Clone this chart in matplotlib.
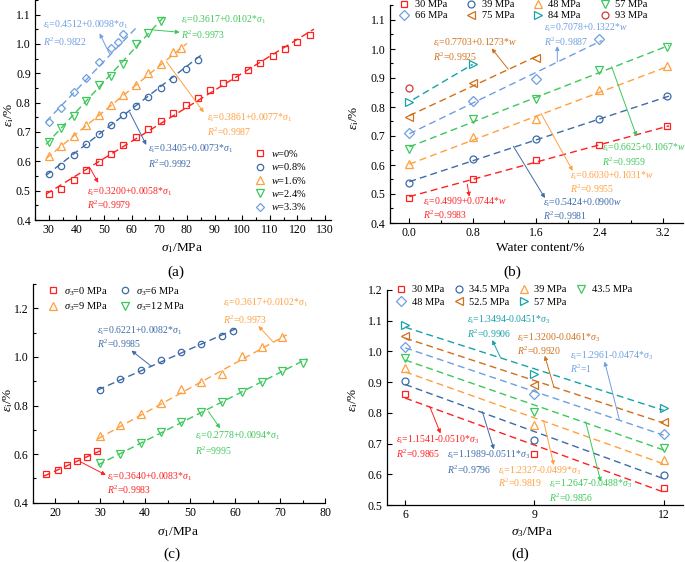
import matplotlib
matplotlib.use('Agg')
import matplotlib.pyplot as plt
from matplotlib.lines import Line2D
from matplotlib.ticker import MultipleLocator, FormatStrFormatter
import numpy as np

plt.rcParams['font.family'] = ['Liberation Serif', 'DejaVu Serif']
plt.rcParams['mathtext.fontset'] = 'custom'
plt.rcParams['mathtext.rm'] = 'Liberation Serif'
plt.rcParams['mathtext.it'] = 'Liberation Serif:italic'
plt.rcParams['mathtext.bf'] = 'Liberation Serif:bold'

# ---------------- data ----------------
# (a) eps_i vs sigma_1 for different water contents
a_labels = ['$w$=0%', '$w$=0.8%', '$w$=1.6%', '$w$=2.4%', '$w$=3.3%']
a_sig_w0 = [30, 34.5, 39, 43.5, 48, 52.5, 57, 61.5, 66, 70.5, 75, 79.5, 84, 88.5, 93, 97.5, 102, 106.5, 111, 115.5, 120, 124.5]
a_eps_w0 = [0.488, 0.506, 0.536, 0.569, 0.599, 0.624, 0.655, 0.684, 0.711, 0.737, 0.764, 0.792, 0.817, 0.842, 0.866, 0.888, 0.911, 0.936, 0.959, 0.984, 1.008, 1.032]
a_sig_w08 = [30, 34.5, 39, 43.5, 48, 52.5, 57, 61.5, 66, 70.5, 75, 79.5, 84]
a_eps_w08 = [0.556, 0.585, 0.623, 0.659, 0.694, 0.725, 0.757, 0.788, 0.819, 0.851, 0.882, 0.915, 0.945]
a_sig_w16 = [30, 34.5, 39, 43.5, 48, 52.5, 57, 61.5, 66, 70.5, 75, 78]
a_eps_w16 = [0.617, 0.652, 0.688, 0.723, 0.757, 0.792, 0.827, 0.861, 0.900, 0.933, 0.972, 0.986]
a_sig_w24 = [30, 34.5, 39, 43.5, 48, 52.5, 57, 61.5, 66, 70.5]
a_eps_w24 = [0.667, 0.712, 0.756, 0.806, 0.859, 0.890, 0.931, 1.001, 1.036, 1.078]
a_sig_w33 = [30, 34.5, 39, 43.5, 48, 52.5, 55, 57]
a_eps_w33 = [0.733, 0.783, 0.836, 0.885, 0.939, 0.988, 1.006, 1.033]
a_intercepts = [0.3200, 0.3405, 0.3861, 0.3617, 0.4512]
a_slopes = [0.0058, 0.0073, 0.0077, 0.0102, 0.0098]
a_r2 = ['0.9979', '0.9992', '0.9987', '0.9973', '0.9822']

# (b) eps_i vs water content for different sigma_1
b_labels = ['30 MPa', '39 MPa', '48 MPa', '57 MPa', '66 MPa', '75 MPa', '84 MPa', '93 MPa']
b_w = [0.0, 0.8, 1.6, 2.4, 3.25]
b_30 = [0.487, 0.553, 0.616, 0.668, 0.735]
b_39 = [0.538, 0.622, 0.688, 0.760, 0.837]
b_48 = [0.603, 0.695, 0.759, 0.860, 0.941]
b_57 = [0.655, 0.757, 0.826, 0.927, 1.006]
b_66 = [0.711, 0.820, 0.897, 1.036]
b_75 = [0.766, 0.883, 0.968]
b_84 = [0.818, 0.947]
b_93 = [0.866]
b_intercepts = [0.4909, 0.5424, 0.6030, 0.6625, 0.7078, 0.7703]
b_slopes = [0.0744, 0.0900, 0.1031, 0.1067, 0.1322, 0.1273]
b_r2 = ['0.9983', '0.9981', '0.9955', '0.9959', '0.9887', '0.9925']

# (c) eps_i vs sigma_1 for different sigma_3
c_labels = ['$\\sigma_3$=0 MPa', '$\\sigma_3$=6 MPa', '$\\sigma_3$=9 MPa', '$\\sigma_3$=12 MPa']
c_sig_0 = [17.9, 20.6, 22.6, 24.8, 27.0, 29.3]
c_eps_0 = [0.517, 0.534, 0.554, 0.571, 0.590, 0.611]
c_sig_6 = [30, 34.5, 39, 43.5, 48, 52.5, 57, 59.5]
c_eps_6 = [0.864, 0.908, 0.947, 0.986, 1.019, 1.052, 1.086, 1.107]
c_sig_9 = [30, 34.5, 39, 43.5, 48, 52.5, 57, 61.5, 66, 70.5]
c_eps_9 = [0.676, 0.718, 0.764, 0.809, 0.867, 0.895, 0.930, 1.004, 1.042, 1.083]
c_sig_12 = [30, 34.5, 39, 43.5, 48, 52.5, 57, 61.5, 66, 70.5, 75]
c_eps_12 = [0.562, 0.602, 0.644, 0.691, 0.733, 0.774, 0.814, 0.856, 0.898, 0.943, 0.976]
c_intercepts = [0.3640, 0.6221, 0.3617, 0.2778]
c_slopes = [0.0083, 0.0082, 0.0102, 0.0094]
c_r2 = ['0.9983', '0.9985', '0.9973', '9995']

# (d) eps_i vs sigma_3 for different sigma_1
d_labels = ['30 MPa', '34.5 MPa', '39 MPa', '43.5 MPa', '48 MPa', '52.5 MPa', '57 MPa']
d_s3 = [6, 9, 12]
d_30 = [0.862, 0.667, 0.554]
d_345 = [0.905, 0.712, 0.597]
d_39 = [0.945, 0.761, 0.645]
d_435 = [0.980, 0.803, 0.687]
d_48 = [1.016, 0.862, 0.731]
d_525 = [1.050, 0.891, 0.771]
d_57 = [1.086, 0.927, 0.815]
d_intercepts = [1.1541, 1.1989, 1.2327, 1.2647, 1.2961, 1.3200, 1.3494]
d_slopes = [-0.0510, -0.0511, -0.0499, -0.0488, -0.0474, -0.0461, -0.0451]
d_r2 = ['0.9865', '0.9796', '0.9819', '0.9856', '1', '0.9920', '0.9906']

# ---------------- style ----------------
RED = '#FF2020'
DBLUE = '#3D6BA8'
ORANGE = '#FFA040'
GREEN = '#3CC85A'
LBLUE = '#6E9FE0'
BROWN = '#D0701A'
TEAL = '#17A2A8'
CRIMSON = '#D23A3A'
DASH = (0, (5, 3))
NOTE_FS = 7.0

W, H = 685, 562
fig = plt.figure(figsize=(W / 100, H / 100), dpi=100)


def add_ax(l, t, r, b):
    return fig.add_axes([l / W, 1 - b / H, (r - l) / W, (b - t) / H])


def fx(px, py):
    return px / W, 1 - py / H


def style(ax, xlim, ylim, xmaj, ymaj, xmin=None, ymin=None, xfmt=None):
    ax.set_xlim(*xlim)
    ax.set_ylim(*ylim)
    ax.xaxis.set_major_locator(MultipleLocator(xmaj))
    ax.yaxis.set_major_locator(MultipleLocator(ymaj))
    if xmin:
        ax.xaxis.set_minor_locator(MultipleLocator(xmin))
    if ymin:
        ax.yaxis.set_minor_locator(MultipleLocator(ymin))
    ax.yaxis.set_major_formatter(FormatStrFormatter('%.1f'))
    if xfmt:
        ax.xaxis.set_major_formatter(FormatStrFormatter(xfmt))
    for s in ['top', 'right']:
        ax.spines[s].set_visible(False)
    for s in ['left', 'bottom']:
        ax.spines[s].set_linewidth(0.9)
    ax.tick_params(direction='in', which='both', labelsize=8.5, width=0.8, pad=3)
    ax.tick_params(which='major', length=3.5)
    ax.tick_params(which='minor', length=2)


def series(ax, x, y, color, marker, ms, fit=None, xr=None):
    if fit is not None:
        xx = np.array(xr)
        ax.plot(xx, fit[0] + fit[1] * xx, ls=DASH, color=color, lw=1.0, zorder=2)
    ax.plot(x, y, ls='none', marker=marker, ms=ms, mfc='none', mec=color, mew=0.9, zorder=3)


def note(ax, eq, r2, color, teq, tr2, tail, head):
    ax.text(teq[0], teq[1], eq, color=color, fontsize=NOTE_FS, ha='left', va='center')
    ax.text(tr2[0], tr2[1], '$R^2$=' + r2, color=color, fontsize=NOTE_FS, ha='left', va='center')
    ax.annotate('', xy=head, xytext=tail,
                arrowprops=dict(arrowstyle='-|>', color=color, lw=0.7, shrinkA=0, shrinkB=0,
                                mutation_scale=6))


def handle(color, marker, ms):
    return Line2D([], [], ls='none', marker=marker, ms=ms, mfc='none', mec=color, mew=0.9)


EPS = '$\\varepsilon_{\\rm i}$'

# ================= (a) =================
axa = add_ax(35, 0, 330.5, 220)
style(axa, (25, 132), (0.4, 1.15), 10, 0.1, 5, 0.05)
a_x = [a_sig_w0, a_sig_w08, a_sig_w16, a_sig_w24, a_sig_w33]
a_y = [a_eps_w0, a_eps_w08, a_eps_w16, a_eps_w24, a_eps_w33]
a_col = [RED, DBLUE, ORANGE, GREEN, LBLUE]
a_mk = ['s', 'o', '^', 'v', 'D']
a_ms = [4.6, 4.6, 5.2, 5.2, 4.2]
a_ext = [(29, 126), (29, 85.5), (29, 80), (29, 72), (29, 61.5)]
for i in range(5):
    series(axa, a_x[i], a_y[i], a_col[i], a_mk[i], a_ms[i],
           (a_intercepts[i], a_slopes[i]), a_ext[i])
a_notes = [  # eq pos, r2 pos, tail, head
    ((43.8, 0.497), (43.8, 0.451), (45.0, 0.576), (47.9, 0.527)),
    ((65.9, 0.644), (65.9, 0.591), (59.3, 0.767), (65.3, 0.656)),
    ((87.3, 0.747), (87.3, 0.701), (72.6, 0.940), (86.1, 0.767)),
    ((78.0, 1.082), (78.0, 1.031), (67.7, 1.048), (77.4, 1.040)),
    ((27.8, 1.065), (27.8, 1.008), (52.0, 0.966), (48.4, 1.036)),
]
for i, (teq, tr2, tail, head) in enumerate(a_notes):
    eq = EPS + '=%.4f+%.4f*$\\sigma_1$' % (a_intercepts[i], a_slopes[i])
    note(axa, eq, a_r2[i], a_col[i], teq, tr2, tail, head)
axa.legend([handle(a_col[i], a_mk[i], a_ms[i]) for i in range(5)], a_labels,
           loc='upper left', bbox_to_anchor=fx(255, 148), bbox_transform=fig.transFigure,
           frameon=False, fontsize=7.5, handlelength=1.0, handletextpad=0.5,
           labelspacing=0.22, borderpad=0, borderaxespad=0)

# ================= (b) =================
axb = add_ax(389.5, 5.5, 682.5, 223)
style(axb, (-0.25, 3.45), (0.4, 1.15), 0.8, 0.1, 0.4, 0.05, xfmt='%.1f')
b_y = [b_30, b_39, b_48, b_57, b_66, b_75, b_84, b_93]
b_col = [RED, DBLUE, ORANGE, GREEN, LBLUE, BROWN, TEAL, CRIMSON]
b_mk = ['s', 'o', '^', 'v', 'D', '<', '>', 'o']
b_ms = [5, 5, 5.6, 5.6, 4.6, 5.6, 5.6, 5]
for i in range(8):
    xs = b_w[:len(b_y[i])]
    if i < 6:
        fit = (b_intercepts[i], b_slopes[i])
        xr = (0.0, xs[-1] + 0.03)
    elif i == 6:
        p = np.polyfit(xs, b_y[i], 1)
        fit = (p[1], p[0])
        xr = (0.05, xs[-1])
    else:
        fit, xr = None, None
    series(axb, xs, b_y[i], b_col[i], b_mk[i], b_ms[i], fit, xr)
b_notes = [
    ((0.177, 0.473), (0.177, 0.428), (0.732, 0.534), (0.758, 0.491)),
    ((1.684, 0.469), (1.684, 0.425), (1.313, 0.665), (1.713, 0.486)),
    ((2.029, 0.562), (2.029, 0.517), (1.663, 0.778), (2.063, 0.580)),
    ((2.430, 0.661), (2.430, 0.612), (2.555, 0.939), (2.871, 0.699)),
    ((1.701, 1.075), (1.701, 1.025), (1.869, 0.956), (1.869, 1.010)),
    ((0.304, 1.020), (0.304, 0.974), (1.250, 0.930), (1.040, 1.002)),
]
for i, (teq, tr2, tail, head) in enumerate(b_notes):
    if i == 1:
        eq = EPS + '=%.4f+%.4f$w$' % (b_intercepts[i], b_slopes[i])
    else:
        eq = EPS + '=%.4f+%.4f*$w$' % (b_intercepts[i], b_slopes[i])
    note(axb, eq, b_r2[i], b_col[i], teq, tr2, tail, head)
order_b = [0, 4, 1, 5, 2, 6, 3, 7]
axb.legend([handle(b_col[i], b_mk[i], b_ms[i]) for i in order_b], [b_labels[i] for i in order_b],
           ncol=4, loc='upper left', bbox_to_anchor=fx(399, 0), bbox_transform=fig.transFigure,
           frameon=False, fontsize=7.5, handlelength=1.0, handletextpad=0.5,
           labelspacing=0.15, columnspacing=1.8, borderpad=0, borderaxespad=0)

# ================= (c) =================
axc = add_ax(32.5, 284, 325, 502.7)
style(axc, (15, 80), (0.4, 1.3), 10, 0.2, 5, 0.1)
c_x = [c_sig_0, c_sig_6, c_sig_9, c_sig_12]
c_y = [c_eps_0, c_eps_6, c_eps_9, c_eps_12]
c_col = [RED, DBLUE, ORANGE, GREEN]
c_mk = ['s', 'o', '^', 'v']
c_ms = [4.6, 4.6, 5.2, 5.2]
c_ext = [(17.5, 30), (29.5, 60.5), (29.5, 71.5), (29.5, 76)]
for i in range(4):
    series(axc, c_x[i], c_y[i], c_col[i], c_mk[i], c_ms[i],
           (c_intercepts[i], c_slopes[i]), c_ext[i])
c_notes = [
    ((31.6, 0.507), (31.6, 0.452), (25.6, 0.569), (31.3, 0.514)),
    ((29.4, 1.108), (29.4, 1.053), (41.5, 0.960), (37.0, 1.026)),
    ((57.3, 1.221), (57.3, 1.152), (68.4, 1.063), (65.2, 1.127)),
    ((51.1, 0.674), (51.1, 0.613), (54.1, 0.775), (56.7, 0.706)),
]
for i, (teq, tr2, tail, head) in enumerate(c_notes):
    eq = EPS + '=%.4f+%.4f*$\\sigma_1$' % (c_intercepts[i], c_slopes[i])
    note(axc, eq, c_r2[i], c_col[i], teq, tr2, tail, head)
order_c = [0, 2, 1, 3]
axc.legend([handle(c_col[i], c_mk[i], c_ms[i]) for i in order_c], [c_labels[i] for i in order_c],
           ncol=2, loc='upper left', bbox_to_anchor=fx(48, 285), bbox_transform=fig.transFigure,
           frameon=False, fontsize=7.5, handlelength=1.0, handletextpad=0.5,
           labelspacing=0.3, columnspacing=1.2, borderpad=0, borderaxespad=0)

# ================= (d) =================
axd = add_ax(386.7, 290, 683, 505)
style(axd, (5.57, 12.45), (0.5, 1.2), 3, 0.1)
d_y = [d_30, d_345, d_39, d_435, d_48, d_525, d_57]
d_col = [RED, DBLUE, ORANGE, GREEN, LBLUE, BROWN, TEAL]
d_mk = ['s', 'o', '^', 'v', 'D', '<', '>']
d_ms = [5, 5, 5.6, 5.6, 4.6, 5.6, 5.6]
for i in range(7):
    series(axd, d_s3, d_y[i], d_col[i], d_mk[i], d_ms[i],
           (d_intercepts[i], d_slopes[i]), (6, 12))
d_notes = [
    ((5.79, 0.712), (5.79, 0.668), (6.57, 0.820), (6.82, 0.733)),
    ((6.97, 0.663), (6.97, 0.616), (7.79, 0.804), (8.06, 0.681)),
    ((8.15, 0.612), (8.15, 0.571), (9.21, 0.775), (9.45, 0.630)),
    ((9.34, 0.568), (9.34, 0.524), (10.19, 0.771), (10.54, 0.576)),
    ((9.83, 0.985), (9.83, 0.945), (10.97, 0.779), (10.63, 0.967)),
    ((8.60, 1.046), (8.60, 1.003), (9.45, 0.885), (9.24, 0.986)),
    ((7.44, 1.103), (7.44, 1.057), (8.21, 0.981), (8.02, 1.037)),
]
for i, (teq, tr2, tail, head) in enumerate(d_notes):
    eq = EPS + '=%.4f%.4f*$\\sigma_3$' % (d_intercepts[i], d_slopes[i])
    note(axd, eq, d_r2[i], d_col[i], teq, tr2, tail, head)
order_d = [0, 4, 1, 5, 2, 6, 3]
axd.legend([handle(d_col[i], d_mk[i], d_ms[i]) for i in order_d], [d_labels[i] for i in order_d],
           ncol=4, loc='upper left', bbox_to_anchor=fx(396, 285), bbox_transform=fig.transFigure,
           frameon=False, fontsize=7.5, handlelength=1.0, handletextpad=0.5,
           labelspacing=0.3, columnspacing=0.9, borderpad=0, borderaxespad=0)

# ---------------- labels ----------------
def ftext(px, py, s, **kw):
    fig.text(px / W, 1 - py / H, s, ha='center', va='center', **kw)

for (px, py) in [(9, 115), (354, 118), (8, 400), (353, 400)]:
    ftext(px, py, EPS + '/%', fontsize=9.5, rotation=90)
ftext(182, 248, '$\\sigma_1$/MPa', fontsize=9.5)
ftext(540, 248, 'Water content/%', fontsize=9.5)
ftext(178, 532, '$\\sigma_1$/MPa', fontsize=9.5)
ftext(532, 532, '$\\sigma_3$/MPa', fontsize=9.5)
ftext(176, 272, '(a)', fontsize=11)
ftext(512, 272, '(b)', fontsize=11)
ftext(172, 554, '(c)', fontsize=11)
ftext(520, 554, '(d)', fontsize=11)

fig.savefig('out.png', dpi=100)
